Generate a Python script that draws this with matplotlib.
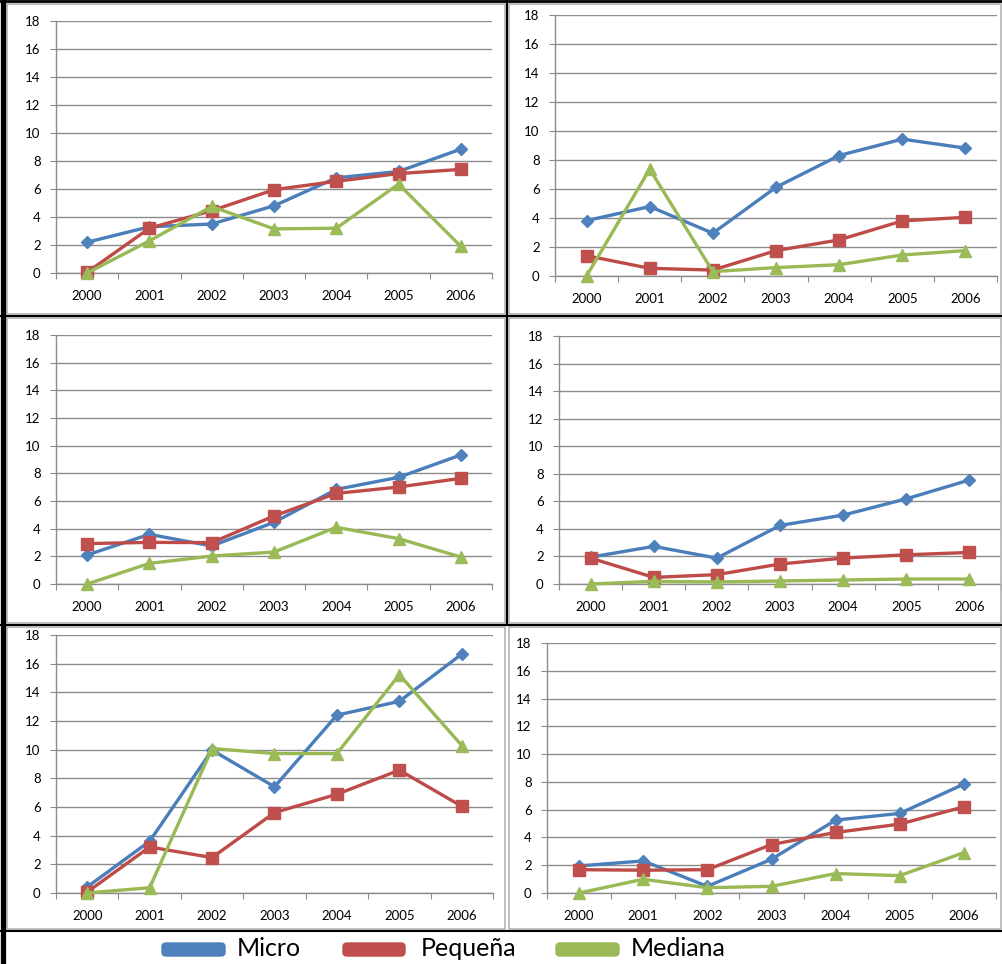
import matplotlib
matplotlib.use('Agg')
import matplotlib.pyplot as plt
from matplotlib.lines import Line2D
from matplotlib.patches import Rectangle, FancyBboxPatch

plt.rcParams['font.family'] = ['Lato', 'DejaVu Sans']

years = ['2000', '2001', '2002', '2003', '2004', '2005', '2006']
series_names = ['Micro', 'Pequeña', 'Mediana']

# panel data, order: top-left, top-right, mid-left, mid-right, bottom-left, bottom-right
micro = [
    [2.2, 3.3, 3.5, 4.8, 6.8, 7.25, 8.85],
    [3.82, 4.79, 2.95, 6.12, 8.31, 9.44, 8.82],
    [2.1, 3.59, 2.75, 4.46, 6.84, 7.71, 9.33],
    [1.95, 2.73, 1.88, 4.25, 5.0, 6.18, 7.55],
    [0.42, 3.61, 9.97, 7.41, 12.41, 13.37, 16.67],
    [1.95, 2.31, 0.48, 2.43, 5.25, 5.73, 7.84],
]
pequena = [
    [0.05, 3.2, 4.45, 5.95, 6.55, 7.1, 7.4],
    [1.4, 0.53, 0.41, 1.75, 2.49, 3.8, 4.05],
    [2.92, 3.01, 2.99, 4.92, 6.55, 7.01, 7.64],
    [1.88, 0.48, 0.68, 1.45, 1.88, 2.12, 2.29],
    [0.07, 3.21, 2.47, 5.61, 6.89, 8.57, 6.05],
    [1.68, 1.64, 1.68, 3.49, 4.36, 4.96, 6.21],
]
mediana = [
    [0.0, 2.3, 4.75, 3.15, 3.2, 6.35, 1.9],
    [0.0, 7.37, 0.3, 0.58, 0.78, 1.45, 1.75],
    [0.0, 1.49, 2.02, 2.31, 4.1, 3.28, 1.95],
    [0.0, 0.19, 0.15, 0.22, 0.29, 0.36, 0.36],
    [0.0, 0.37, 10.08, 9.73, 9.73, 15.23, 10.29],
    [0.0, 0.99, 0.38, 0.48, 1.4, 1.25, 2.91],
]

W, H = 1002, 964
fig = plt.figure(figsize=(W / 100, H / 100), dpi=100)

def fx(x):
    return x / W

def fy(y):
    return 1 - y / H

# plot areas in pixels: left, right, top, bottom
boxes = [
    (56, 492, 21, 273),
    (555, 997, 15, 276),
    (56, 492, 335, 584),
    (559, 1001, 336, 584),
    (56, 493, 635, 893),
    (547, 996, 643, 893),
]

# chart-area frames (light gray)
frames = [
    (7, 505, 4, 314),
    (509, 1001, 4, 314),
    (7, 505, 318, 623),
    (509, 1001, 318, 623),
    (7, 505, 627, 929),
    (509, 1001, 627, 929),
]

line_cols = ['#4a7ebb', '#be4b48', '#98b954']
mark_face = ['#4f81bd', '#c0504d', '#9bbb59']
markers = ['D', 's', '^']
msizes = [6.5, 8, 8.5]
grid_col = '#8c8c8c'

for (l, r, t, b) in frames:
    fig.add_artist(Rectangle((fx(l), fy(b)), fx(r - l), (b - t) / H,
                             transform=fig.transFigure, fill=False,
                             edgecolor='#b4b4b4', linewidth=1.2))

for i, (l, r, t, b) in enumerate(boxes):
    ax = fig.add_axes([fx(l), fy(b), fx(r - l), (b - t) / H])
    ax.set_facecolor('none')
    xs = range(len(years))
    for k, data in enumerate([micro[i], pequena[i], mediana[i]]):
        ax.plot(xs, data, color=line_cols[k], lw=2.4, marker=markers[k],
                ms=msizes[k], mfc=mark_face[k], mec=mark_face[k],
                clip_on=False, zorder=3 + k)
    ax.set_xlim(-0.5, 6.5)
    ax.set_ylim(0, 18)
    ax.set_yticks(range(0, 19, 2))
    ax.set_yticklabels([str(v) for v in range(0, 19, 2)], fontsize=9.5, color='black')
    ax.yaxis.grid(True, color=grid_col, lw=1)
    ax.set_axisbelow(True)
    ax.set_xticks([v - 0.5 for v in range(8)])
    ax.set_xticklabels([])
    ax.set_xticks(list(xs), minor=True)
    ax.set_xticklabels(years, minor=True, fontsize=9.5, color='black')
    ax.tick_params(axis='x', which='major', length=4, color=grid_col, direction='out')
    ax.tick_params(axis='x', which='minor', length=0, pad=12)
    ax.tick_params(axis='y', length=4, color=grid_col, pad=7)
    for s in ['top', 'right']:
        ax.spines[s].set_visible(False)
    for s in ['left', 'bottom']:
        ax.spines[s].set_color(grid_col)
        ax.spines[s].set_linewidth(1)

# table borders (black)
def hline(y, x0, x1, lw, col='black'):
    fig.add_artist(Line2D([fx(x0), fx(x1)], [fy(y), fy(y)], transform=fig.transFigure,
                          color=col, lw=lw))

def vline(x, y0, y1, lw, col='black'):
    fig.add_artist(Line2D([fx(x), fx(x)], [fy(y0), fy(y1)], transform=fig.transFigure,
                          color=col, lw=lw))

hline(1, 0, W, 2.0)
hline(316, 0, W, 1.5)
hline(625, 0, W, 1.5)
hline(931, 0, W, 1.5)
vline(2.5, 0, H, 3.8)
vline(507, 0, 625, 1.5)

# legend
leg_patch_x = [(162, 225), (343, 405), (556, 619)]
leg_text_x = [237, 421, 631]
leg_y = 949
for k, name in enumerate(series_names):
    x0, x1 = leg_patch_x[k]
    fig.add_artist(FancyBboxPatch((fx(x0), fy(leg_y + 7)), fx(x1 - x0), 13 / H,
                                  boxstyle='round,pad=0,rounding_size=0.004',
                                  transform=fig.transFigure, facecolor=mark_face[k],
                                  edgecolor=line_cols[k], linewidth=1))
    fig.text(fx(leg_text_x[k]), fy(leg_y), name, fontsize=18, va='center', ha='left',
             color='black')

fig.savefig('out.png', dpi=100)
